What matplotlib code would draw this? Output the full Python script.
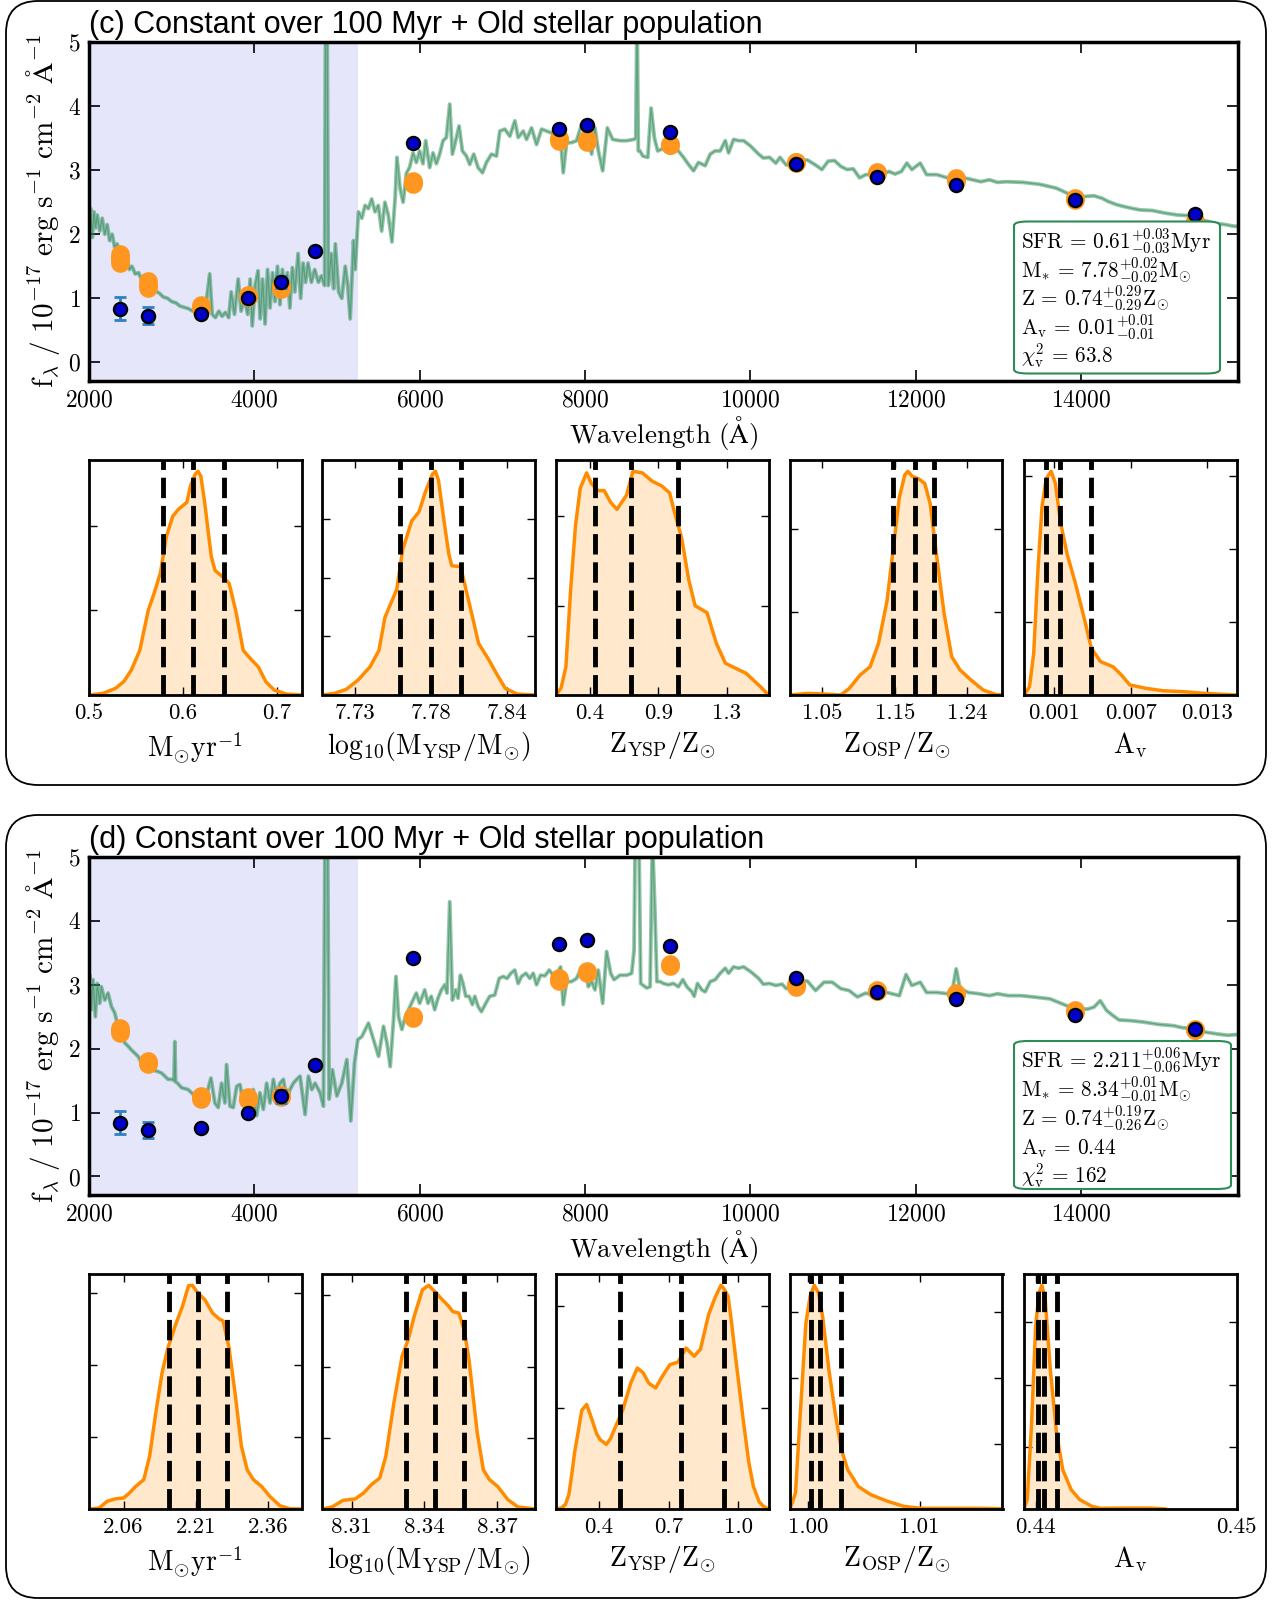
import matplotlib
matplotlib.use("Agg")
import matplotlib.pyplot as plt
from matplotlib.patches import FancyBboxPatch
import numpy as np

plt.rcParams['font.family'] = 'serif'
plt.rcParams['font.serif'] = ['cmr10']
plt.rcParams['mathtext.fontset'] = 'cm'
plt.rcParams['axes.formatter.use_mathtext'] = True
plt.rcParams['axes.unicode_minus'] = False

# ---------------- photometry (same for both panels) ----------------
phot_wl = [2373, 2717, 3351, 3921, 4324, 4737, 5916, 7686, 8029, 9023, 10552, 11534, 12486, 13929, 15382]
phot_fl = [0.84, 0.73, 0.755, 1.00, 1.255, 1.74, 3.42, 3.64, 3.70, 3.60, 3.10, 2.89, 2.77, 2.53, 2.31]
phot_err = [0.18, 0.13, 0.03, 0.02, 0.10, 0.02, 0.02, 0.02, 0.02, 0.02, 0.02, 0.02, 0.02, 0.02, 0.02]

# model photometry
nan = np.nan
model_c = [1.625, 1.21, 0.86, 1.04, 1.18, nan, 2.81, 3.48, 3.46, 3.40, 3.12, 2.96, 2.85, 2.55, 2.20]
model_c_err = [0.07, 0.055, 0.03, 0.015, 0.03, 0, 0.02, 0.02, 0.02, 0.01, 0.01, 0.01, 0.02, 0.01, 0.01]
model_d = [2.28, 1.78, 1.24, 1.22, 1.26, nan, 2.49, 3.08, 3.20, 3.31, 2.99, 2.91, 2.86, 2.59, 2.30]
model_d_err = [0.04, 0.025, 0.025, 0.025, 0.02, 0, 0.015, 0.02, 0.02, 0.02, 0.02, 0.01, 0.01, 0.01, 0.01]

# ---------------- model spectra ----------------
wl_c = [2000, 2020, 2040, 2060, 2080, 2100, 2130, 2160, 2190, 2220, 2250, 2280, 2310, 2340, 2370, 2400,
        2430, 2460, 2490, 2520, 2560, 2600, 2640, 2680, 2720, 2760, 2800, 2850, 2900, 2950, 3000, 3050,
        3100, 3150, 3200, 3260, 3320, 3360, 3410, 3460, 3490, 3530, 3570, 3610, 3650, 3690, 3720, 3760,
        3805, 3840, 3880, 3920, 3950, 3975, 4010, 4045, 4070, 4100, 4130, 4160, 4190, 4220, 4250, 4280,
        4310, 4340, 4370, 4400, 4430, 4460, 4490, 4530, 4560, 4590, 4620, 4650, 4690, 4730, 4775, 4810,
        4850, 4862, 4880, 4895, 4930, 4960, 4980, 5020, 5058, 5100, 5130, 5160, 5200, 5220, 5260, 5300,
        5340, 5380, 5420, 5460, 5500, 5540, 5580, 5620, 5665, 5705, 5725, 5765, 5800, 5840, 5880, 5920,
        5960, 6000, 6040, 6073, 6121, 6162, 6202, 6242, 6283, 6323, 6364, 6396, 6436, 6477, 6517, 6566,
        6606, 6654, 6707, 6760, 6808, 6869, 6929, 6970, 7030, 7091, 7152, 7192, 7253, 7293, 7354, 7414,
        7475, 7535, 7596, 7657, 7697, 7737, 7778, 7838, 7899, 7960, 8000, 8040, 8081, 8121, 8162, 8214,
        8271, 8335, 8424, 8505, 8590, 8615, 8630, 8645, 8665, 8700, 8760, 8800, 8840, 8880, 8930, 8990,
        9050, 9111, 9192, 9252, 9313, 9373, 9454, 9515, 9575, 9636, 9697, 9737, 9798, 9858, 9919, 10000,
        10101, 10157, 10233, 10309, 10359, 10435, 10562, 10689, 10790, 10866, 10942, 11018, 11094, 11170,
        11246, 11322, 11397, 11473, 11549, 11676, 11752, 11828, 11894, 11954, 12056, 12132, 12258, 12385,
        12486, 12587, 12689, 12790, 12891, 12992, 13094, 13296, 13499, 13701, 13853, 13954, 14056, 14157,
        14258, 14332, 14435, 14560, 14714, 14865, 15018, 15170, 15321, 15473, 15625, 15752, 15828, 15904]
fl_c = [2.15, 2.40, 1.95, 2.35, 2.10, 2.30, 2.05, 2.25, 2.00, 2.15, 1.90, 2.00, 1.80, 1.85, 1.70, 1.72,
        1.55, 1.62, 1.45, 1.50, 1.38, 1.40, 1.28, 1.30, 1.20, 1.18, 1.12, 1.08, 1.02, 1.00, 0.95, 0.93,
        0.88, 0.86, 0.84, 0.80, 0.78, 0.76, 0.85, 1.38, 0.75, 0.70, 0.80, 0.72, 0.78, 0.70, 1.10, 0.75,
        1.30, 0.80, 1.00, 0.75, 1.30, 0.57, 1.20, 1.43, 0.68, 1.30, 0.60, 1.45, 0.85, 1.40, 0.95, 1.50,
        0.90, 1.45, 1.05, 1.40, 0.85, 1.48, 1.10, 1.70, 1.00, 1.55, 1.25, 1.55, 1.25, 1.45, 1.25, 1.35,
        1.20, 5.60, 5.60, 1.20, 1.70, 1.15, 1.85, 1.10, 1.00, 1.50, 1.20, 0.68, 1.90, 1.45, 2.35, 2.25,
        2.45, 2.40, 2.55, 2.35, 2.45, 2.05, 2.50, 2.30, 1.88, 2.60, 3.20, 2.70, 2.50, 2.95, 3.05, 3.27,
        3.12, 3.30, 3.10, 3.46, 3.04, 3.27, 3.10, 3.25, 3.46, 3.51, 4.03, 3.25, 3.46, 3.69, 3.30, 3.22,
        3.09, 3.25, 3.04, 2.96, 3.12, 3.25, 3.22, 3.61, 3.64, 3.53, 3.77, 3.51, 3.61, 3.48, 3.66, 3.40,
        3.64, 3.61, 3.58, 3.66, 3.61, 2.96, 3.43, 3.43, 3.46, 3.72, 3.66, 3.46, 3.25, 3.66, 3.30, 2.99,
        3.66, 3.48, 3.46, 3.46, 3.48, 3.50, 5.60, 3.30, 3.30, 3.22, 3.20, 3.97, 3.50, 3.30, 3.33, 3.33,
        3.35, 3.33, 3.20, 3.09, 2.99, 3.12, 3.07, 3.25, 3.30, 3.30, 3.46, 3.27, 3.48, 3.46, 3.46, 3.38,
        3.25, 3.19, 3.20, 3.11, 3.20, 3.08, 3.14, 3.16, 3.08, 3.01, 3.14, 3.15, 3.06, 3.01,
        3.02, 2.88, 2.93, 2.93, 2.90, 2.98, 2.94, 2.98, 3.11, 3.01, 3.11, 2.93, 2.93, 2.88,
        2.85, 2.88, 2.85, 2.82, 2.85, 2.81, 2.82, 2.81, 2.78, 2.72, 2.63, 2.58, 2.59, 2.60,
        2.56, 2.51, 2.46, 2.42, 2.38, 2.37, 2.33, 2.30, 2.29, 2.22, 2.17, 2.15, 2.13, 2.12]

wl_d = [2000, 2010, 2028, 2048, 2077, 2101, 2129, 2149, 2190, 2230, 2271, 2311, 2351, 2392, 2432, 2473,
        2513, 2553, 2594, 2634, 2695, 2755, 2816, 2877, 2957, 3018, 3028, 3038, 3048, 3071, 3119, 3200,
        3281, 3361, 3422, 3475, 3523, 3563, 3604, 3644, 3664, 3705, 3745, 3786, 3826, 3866, 3907, 3947,
        3988, 4028, 4068, 4109, 4149, 4190, 4230, 4270, 4311, 4351, 4392, 4432, 4472, 4513, 4553, 4614,
        4654, 4695, 4735, 4796, 4836, 4856, 4885, 4905, 4945, 4998, 5058, 5119, 5167, 5212, 5252, 5301,
        5381, 5442, 5503, 5563, 5604, 5644, 5684, 5713, 5745, 5785, 5826, 5866, 5919, 5960, 6000, 6032,
        6061, 6101, 6141, 6182, 6222, 6263, 6303, 6331, 6364, 6396, 6436, 6465, 6493, 6525, 6558, 6598,
        6638, 6667, 6707, 6747, 6800, 6848, 6909, 6962, 7010, 7058, 7103, 7151, 7192, 7232, 7285, 7333,
        7374, 7414, 7462, 7515, 7568, 7616, 7677, 7705, 7737, 7778, 7838, 7899, 7959, 8000, 8040, 8081,
        8121, 8161, 8214, 8262, 8311, 8351, 8424, 8505, 8565, 8594, 8610, 8650, 8674, 8747, 8788, 8816,
        8845, 8870, 8909, 8949, 9010, 9070, 9131, 9184, 9232, 9293, 9321, 9361, 9414, 9454, 9515, 9575,
        9636, 9697, 9737, 9798, 9858, 9919, 10000, 10101, 10157, 10233, 10309, 10385, 10435, 10587, 10689,
        10790, 10891, 10992, 11094, 11195, 11296, 11397, 11499, 11651, 11803, 11884, 11954, 12056, 12132,
        12258, 12385, 12451, 12491, 12537, 12638, 12765, 12891, 12992, 13119, 13271, 13423, 13625, 13777,
        13929, 14081, 14157, 14233, 14309, 14385, 14461, 14587, 14739, 14942, 15119, 15220, 15372, 15499,
        15651, 15777, 15878]
fl_d = [2.20, 3.15, 2.61, 3.08, 2.50, 3.02, 2.71, 2.97, 2.76, 2.87, 2.66, 2.56, 2.35, 2.30, 2.09, 2.04,
        1.98, 1.93, 1.88, 1.78, 1.72, 1.67, 1.65, 1.62, 1.52, 1.52, 1.50, 2.11, 1.48, 1.46, 1.39, 1.36,
        1.26, 1.23, 1.28, 1.54, 1.15, 1.08, 1.46, 1.15, 1.75, 1.10, 1.08, 1.41, 1.44, 1.15, 1.26, 1.00,
        1.36, 0.95, 1.31, 1.05, 1.46, 1.15, 1.52, 1.26, 1.46, 1.52, 1.21, 1.36, 1.46, 1.52, 1.57, 0.97,
        1.57, 1.36, 1.46, 1.31, 1.10, 5.60, 5.60, 1.21, 1.67, 1.26, 1.46, 1.83, 0.87, 1.78, 2.14, 2.19,
        2.40, 2.14, 1.88, 2.35, 2.09, 1.72, 2.45, 3.13, 2.50, 2.30, 2.50, 2.61, 2.76, 2.87, 2.71, 2.82,
        2.92, 2.71, 2.82, 2.61, 2.79, 2.92, 3.00, 2.87, 4.30, 2.76, 2.92, 2.79, 3.15, 3.02, 2.82, 2.82,
        2.69, 2.82, 2.66, 2.58, 2.71, 2.82, 2.84, 3.10, 3.13, 3.10, 3.18, 3.23, 3.02, 3.13, 3.18, 3.10,
        3.18, 3.00, 3.15, 3.14, 3.23, 3.15, 3.21, 3.28, 2.69, 3.05, 3.05, 3.10, 3.28, 3.31, 2.97, 3.05,
        2.92, 3.23, 2.71, 3.52, 3.18, 3.08, 3.15, 3.15, 3.18, 3.54, 5.60, 5.60, 3.02, 2.95, 2.97, 5.30,
        4.20, 3.05, 3.05, 3.02, 3.00, 3.02, 2.97, 3.08, 2.97, 2.89, 2.82, 3.02, 2.92, 2.89, 3.05, 3.08,
        3.18, 3.26, 3.18, 3.28, 3.26, 3.28, 3.21, 3.10, 3.01, 3.02, 2.99, 3.01, 2.94, 3.04, 3.06,
        2.91, 3.04, 3.04, 2.94, 2.91, 2.81, 2.87, 2.83, 2.88, 2.83, 3.16, 2.99, 3.04, 2.88,
        2.88, 2.86, 2.96, 3.25, 2.94, 2.88, 2.86, 2.83, 2.86, 2.83, 2.83, 2.81, 2.78, 2.70,
        2.62, 2.62, 2.65, 2.75, 2.60, 2.52, 2.45, 2.44, 2.42, 2.38, 2.36, 2.33, 2.31, 2.26,
        2.23, 2.21, 2.22]

# ---------------- posterior curves (panel c) ----------------
c_sfr_x = [0.500, 0.515, 0.528, 0.537, 0.545, 0.554, 0.563, 0.569, 0.576, 0.582, 0.589, 0.595, 0.604, 0.608,
           0.613, 0.616, 0.619, 0.623, 0.630, 0.634, 0.643, 0.649, 0.656, 0.664, 0.673, 0.680, 0.688, 0.697,
           0.710, 0.726]
c_sfr_y = [0, 0.007, 0.028, 0.057, 0.106, 0.19, 0.36, 0.43, 0.52, 0.67, 0.76, 0.79, 0.82, 0.89, 0.94, 0.952,
           0.93, 0.82, 0.59, 0.53, 0.50, 0.475, 0.36, 0.19, 0.149, 0.12, 0.057, 0.021, 0.004, 0]
c_mass_x = [7.711, 7.719, 7.727, 7.735, 7.743, 7.749, 7.753, 7.757, 7.761, 7.765, 7.771, 7.776, 7.780, 7.785,
            7.787, 7.789, 7.793, 7.796, 7.798, 7.804, 7.806, 7.812, 7.816, 7.823, 7.828, 7.834, 7.842, 7.854]
c_mass_y = [0, 0.007, 0.024, 0.064, 0.12, 0.19, 0.33, 0.39, 0.45, 0.62, 0.74, 0.78, 0.86, 0.94, 0.952, 0.915,
            0.73, 0.60, 0.55, 0.546, 0.49, 0.33, 0.22, 0.149, 0.092, 0.028, 0.004, 0]
c_zy_x = [0.228, 0.26, 0.29, 0.32, 0.35, 0.38, 0.42, 0.45, 0.49, 0.53, 0.57, 0.61, 0.64, 0.67, 0.71, 0.77,
          0.83, 0.89, 0.94, 0.97, 1.015, 1.06, 1.10, 1.175, 1.233, 1.29, 1.42, 1.51, 1.56]
c_zy_y = [0, 0.03, 0.12, 0.45, 0.72, 0.88, 0.945, 0.90, 0.87, 0.87, 0.82, 0.79, 0.82, 0.85, 0.952, 0.945,
          0.91, 0.89, 0.86, 0.78, 0.67, 0.49, 0.38, 0.35, 0.22, 0.135, 0.092, 0.035, 0]
c_zo_x = [1.012, 1.035, 1.057, 1.078, 1.089, 1.103, 1.116, 1.127, 1.138, 1.146, 1.154, 1.161, 1.165, 1.171,
          1.179, 1.187, 1.194, 1.201, 1.212, 1.222, 1.233, 1.247, 1.263, 1.280, 1.288]
c_zo_y = [0, 0.007, 0.004, 0, 0.028, 0.085, 0.12, 0.22, 0.40, 0.62, 0.84, 0.936, 0.952, 0.93, 0.92, 0.90,
          0.815, 0.63, 0.35, 0.163, 0.106, 0.064, 0.021, 0.001, 0]
c_av_x = [-0.00136, -0.00093, -0.0006, -0.00028, 0.00005, 0.00038, 0.00077, 0.0011, 0.00152, 0.00202,
          0.00267, 0.00333, 0.00392, 0.00464, 0.00562, 0.00628, 0.00693, 0.00825, 0.00956, 0.0112, 0.0128, 0.0153]
c_av_y = [0, 0.035, 0.177, 0.52, 0.80, 0.92, 0.952, 0.90, 0.73, 0.60, 0.475, 0.333, 0.199, 0.142, 0.12,
          0.085, 0.043, 0.028, 0.018, 0.014, 0.007, 0]

# ---------------- posterior curves (panel d) ----------------
d_sfr_x = [1.988, 2.009, 2.026, 2.043, 2.060, 2.072, 2.085, 2.102, 2.114, 2.127, 2.140, 2.152, 2.169, 2.182,
           2.195, 2.203, 2.212, 2.229, 2.245, 2.258, 2.267, 2.279, 2.292, 2.305, 2.317, 2.330, 2.347, 2.364,
           2.385, 2.406, 2.430]
d_sfr_y = [0, 0.004, 0.033, 0.043, 0.047, 0.068, 0.096, 0.125, 0.224, 0.41, 0.58, 0.685, 0.79, 0.86, 0.95,
           0.952, 0.926, 0.89, 0.834, 0.81, 0.80, 0.69, 0.49, 0.267, 0.167, 0.125, 0.096, 0.054, 0.014, 0.001, 0]
d_mass_x = [8.298, 8.302, 8.3065, 8.3115, 8.3149, 8.3182, 8.3216, 8.3241, 8.3274, 8.3308, 8.3333, 8.3358,
            8.3392, 8.3417, 8.3442, 8.3467, 8.3501, 8.3517, 8.3542, 8.3564, 8.3584, 8.3618, 8.3643, 8.3668,
            8.3702, 8.3744, 8.3785, 8.3856]
d_mass_y = [0, 0.009, 0.037, 0.043, 0.068, 0.104, 0.132, 0.224, 0.45, 0.65, 0.72, 0.82, 0.933, 0.952, 0.926,
            0.898, 0.862, 0.84, 0.834, 0.763, 0.635, 0.323, 0.167, 0.125, 0.096, 0.04, 0.009, 0]
d_zy_x = [0.215, 0.24, 0.256, 0.27, 0.282, 0.295, 0.309, 0.326, 0.347, 0.37, 0.39, 0.405, 0.432, 0.45, 0.467,
          0.502, 0.537, 0.565, 0.59, 0.615, 0.644, 0.67, 0.705, 0.74, 0.775, 0.81, 0.837, 0.872, 0.90, 0.925,
          0.94, 0.956, 0.97, 0.986, 1.021, 1.045, 1.065, 1.09, 1.109, 1.13]
d_zy_y = [0, 0.005, 0.02, 0.06, 0.14, 0.24, 0.32, 0.42, 0.445, 0.38, 0.32, 0.295, 0.275, 0.30, 0.34, 0.42,
          0.536, 0.60, 0.58, 0.535, 0.515, 0.56, 0.614, 0.625, 0.685, 0.65, 0.68, 0.827, 0.90, 0.952, 0.935,
          0.905, 0.80, 0.664, 0.38, 0.20, 0.096, 0.03, 0.011, 0]
d_zo_x = [0.99839, 0.99888, 0.99933, 0.99981, 1.00019, 1.00056, 1.00094, 1.00131, 1.00187, 1.00243, 1.003,
          1.00356, 1.0045, 1.00562, 1.00712, 1.00861, 1.01011, 1.0131, 1.01536, 1.01742]
d_zo_y = [0, 0.068, 0.42, 0.79, 0.905, 0.952, 0.92, 0.82, 0.593, 0.41, 0.252, 0.167, 0.096, 0.061, 0.033,
          0.011, 0.003, 0.003, 0.003, 0.001]
d_av_x = [0.43942, 0.43958, 0.43979, 0.44, 0.44017, 0.44031, 0.44048, 0.44073, 0.44104, 0.44135, 0.44177,
          0.44219, 0.44281, 0.44323, 0.44427, 0.44573, 0.44646]
d_av_y = [0, 0.04, 0.35, 0.777, 0.92, 0.952, 0.89, 0.593, 0.323, 0.167, 0.082, 0.04, 0.011, 0.003, 0.004,
          0.004, 0]

# percentiles (16, 50, 84)
c_q = [[0.579, 0.611, 0.644], [7.763, 7.784, 7.804], [0.47, 0.70, 0.995], [1.146, 1.174, 1.199],
       [0.00038, 0.00143, 0.00392]]
d_q = [[2.155, 2.215, 2.276], [8.3325, 8.3445, 8.3564], [0.49, 0.755, 0.94], [1.00026, 1.00105, 1.003],
       [0.4401, 0.44042, 0.44108]]

c_xlim = [(0.5, 0.726), (7.711, 7.854), (0.228, 1.56), (1.012, 1.288), (-0.00136, 0.0153)]
d_xlim = [(1.988, 2.430), (8.298, 8.3856), (0.215, 1.13), (0.99839, 1.01742), (0.43942, 0.45)]
c_ticks = [[0.5, 0.6, 0.7], [7.733, 7.784, 7.835], [0.44, 0.87, 1.30], [1.054, 1.148, 1.242], [0.001, 0.007, 0.013]]
c_tlabels = [['0.5', '0.6', '0.7'], ['7.73', '7.78', '7.84'], ['0.4', '0.9', '1.3'], ['1.05', '1.15', '1.24'],
             ['0.001', '0.007', '0.013']]
d_ticks = [[2.06, 2.21, 2.36], [8.31, 8.34, 8.37], [0.4, 0.7, 1.0], [1.00, 1.01], [0.44, 0.45]]
d_tlabels = [['2.06', '2.21', '2.36'], ['8.31', '8.34', '8.37'], ['0.4', '0.7', '1.0'], ['1.00', '1.01'],
             ['0.44', '0.45']]
c_yticks = [[0.36, 0.72], [0.25, 0.5, 0.75], [0.38, 0.76], [0.352, 0.705], [0.31, 0.62, 0.93]]
d_yticks = [[0.306, 0.614, 0.92], [0.302, 0.604, 0.91], [0.43, 0.862], [0.278, 0.557, 0.838], [0.264, 0.528, 0.794]]

hist_labels = [r'$\mathrm{M_{\odot}yr^{-1}}$', r'$\mathrm{log_{10}(M_{YSP}/M_{\odot})}$',
               r'$\mathrm{Z_{YSP}/Z_{\odot}}$', r'$\mathrm{Z_{OSP}/Z_{\odot}}$', r'$\mathrm{A_v}$']

lines_c = [r'$\mathrm{SFR}\,=\,0.61^{+0.03}_{-0.03}\mathrm{Myr}$',
           r'$\mathrm{M_{*}}\,=\,7.78^{+0.02}_{-0.02}\mathrm{M_{\odot}}$',
           r'$\mathrm{Z}\,=\,0.74^{+0.29}_{-0.29}\mathrm{Z_{\odot}}$',
           r'$\mathrm{A_v}\,=\,0.01^{+0.01}_{-0.01}$',
           r'$\chi^2_{\mathrm{v}}\,=\,63.8$']
lines_d = [r'$\mathrm{SFR}\,=\,2.211^{+0.06}_{-0.06}\mathrm{Myr}$',
           r'$\mathrm{M_{*}}\,=\,8.34^{+0.01}_{-0.01}\mathrm{M_{\odot}}$',
           r'$\mathrm{Z}\,=\,0.74^{+0.19}_{-0.26}\mathrm{Z_{\odot}}$',
           r'$\mathrm{A_v}\,=\,0.44$',
           r'$\chi^2_{\mathrm{v}}\,=\,162$']

W, H = 1276.0, 1600.0
fig = plt.figure(figsize=(12.76, 16), dpi=100)


def spec_panel(top, bot, wl, fl, model, model_err, lines, box_top, box_w, box_h, title):
    ax = fig.add_axes([89 / W, 1 - bot / H, (1238 - 89) / W, (bot - top) / H])
    ax.axvspan(2000, 5260, color='lavender', lw=0, zorder=0)
    ax.plot(wl, fl, color='seagreen', lw=2.8, alpha=0.5, zorder=2)
    ax.plot(wl, fl, color='seagreen', lw=0.9, alpha=0.55, zorder=2)
    m = np.array(model)
    me = np.array(model_err)
    ok = ~np.isnan(m)
    pw = np.array(phot_wl)
    vl = ax.vlines(pw[ok], m[ok] - me[ok], m[ok] + me[ok], colors='#ff9620', lw=13.5, zorder=3)
    vl.set_capstyle('round')
    ax.plot(pw[ok], m[ok], 'o', color='#ff9620', ms=13.5, mew=0, zorder=3)
    ax.errorbar(phot_wl, phot_fl, yerr=phot_err, fmt='none', ecolor='#2f7fc1', elinewidth=2,
                capsize=4.5, capthick=2, zorder=4)
    ax.plot(phot_wl, phot_fl, 'o', ms=9.5, mfc='#0000cc', mec='black', mew=1.6, zorder=5)
    ax.set_xlim(2000, 15900)
    ax.set_ylim(-0.29, 5.0)
    ax.set_xticks([2000, 4000, 6000, 8000, 10000, 12000, 14000])
    ax.set_yticks([0, 1, 2, 3, 4, 5])
    ax.tick_params(direction='in', top=True, right=True, length=8, width=1.2, labelsize=17, pad=6)
    for s in ax.spines.values():
        s.set_linewidth(2.5)
    ax.set_xlabel(r'$\mathrm{Wavelength\ (\AA)}$', fontsize=19.5, labelpad=2)
    ax.set_ylabel(r'$\mathrm{f_{\lambda}\ /\ 10^{-17}\ erg\ s^{-1}\ cm^{-2}\ \AA^{-1}}$', fontsize=21, labelpad=4)
    # parameter box, pixel layout relative to the axes
    ah = bot - top
    aw = 1238 - 89
    bx0 = (1014 - 89) / aw
    by1 = 1 - (box_top - top) / ah
    frame = FancyBboxPatch((bx0, by1 - box_h / ah), box_w / aw, box_h / ah,
                           boxstyle='round,pad=0,rounding_size=0.012', transform=ax.transAxes,
                           fc='white', ec='seagreen', lw=1.5, zorder=6)
    ax.add_patch(frame)
    for k, s in enumerate(lines):
        yb = box_top + 27.5 + 28.6 * k
        ax.text((1021 - 89) / aw, 1 - (yb - top) / ah, s, transform=ax.transAxes, ha='left',
                va='baseline', fontsize=15.3, zorder=7)
    fig.text(89 / W, 1 - (top - 9) / H, title, fontsize=22, family='Liberation Sans', va='baseline')
    return ax


def hist_row(top, bot, xs, ys, qs, xlims, ticks, tlabels, yticks):
    lefts = [89, 322.5, 556, 790, 1024]
    for i in range(5):
        ax = fig.add_axes([lefts[i] / W, 1 - bot / H, 212.5 / W, (bot - top) / H])
        ax.fill_between(xs[i], ys[i], 0, color='darkorange', alpha=0.2, lw=0)
        ax.plot(xs[i], ys[i], color='darkorange', lw=2.5)
        for q in qs[i]:
            ax.axvline(q, color='black', lw=3.5, ls='--', dashes=(4.2, 1.6))
        ax.set_xlim(*xlims[i])
        ax.set_ylim(0, 1)
        ax.set_xticks(ticks[i])
        ax.set_xticklabels(tlabels[i])
        ax.set_yticks(yticks[i])
        ax.set_yticklabels([])
        ax.tick_params(direction='in', top=True, right=True, length=6, width=1, labelsize=16.5, pad=6)
        for s in ax.spines.values():
            s.set_linewidth(2)
        ax.set_xlabel(hist_labels[i], fontsize=20, labelpad=5)


spec_panel(42, 381, wl_c, fl_c, model_c, model_c_err, lines_c, 221.5, 206, 152,
           '(c) Constant over 100 Myr + Old stellar population')
hist_row(460, 695, [c_sfr_x, c_mass_x, c_zy_x, c_zo_x, c_av_x], [c_sfr_y, c_mass_y, c_zy_y, c_zo_y, c_av_y],
         c_q, c_xlim, c_ticks, c_tlabels, c_yticks)

spec_panel(857, 1195, wl_d, fl_d, model_d, model_d_err, lines_d, 1041, 217, 148,
           '(d) Constant over 100 Myr + Old stellar population')
hist_row(1274, 1509, [d_sfr_x, d_mass_x, d_zy_x, d_zo_x, d_av_x], [d_sfr_y, d_mass_y, d_zy_y, d_zo_y, d_av_y],
         d_q, d_xlim, d_ticks, d_tlabels, d_yticks)

# rounded frames around the two panels
for y0, h in [(8.15, 7.84), (0.02, 7.83)]:
    box = FancyBboxPatch((0.06, y0), 12.60, h, boxstyle='round,pad=0,rounding_size=0.32',
                         transform=fig.dpi_scale_trans, fill=False, ec='black', lw=1.3)
    fig.add_artist(box)

fig.savefig('out.png', dpi=100)
